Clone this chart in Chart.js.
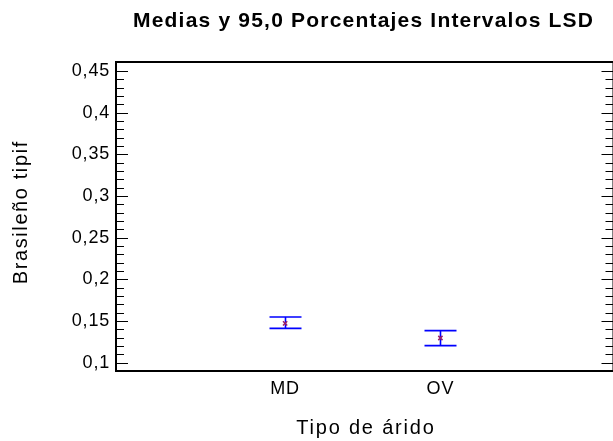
<!DOCTYPE html>
<html>
<head>
<meta charset="utf-8">
<script src="https://cdn.jsdelivr.net/npm/chart.js@4"></script>
<style>
  html, body { margin: 0; padding: 0; background: #fff; overflow: hidden; }
  canvas { display: block; }
</style>
</head>
<body>
<canvas id="chart" width="613" height="441"></canvas>
<script>
// group names and LSD interval values
const categories = ["MD", "OV"];
const means = [0.1471, 0.1296];
const lower = [0.1411, 0.1204];
const upper = [0.1548, 0.1384];
const yTicks = [0.1, 0.15, 0.2, 0.25, 0.3, 0.35, 0.4, 0.45];
const yMinorStep = 0.01;

const FONT = "'Liberation Sans', Arial, sans-serif";
// the right edge of the frame sits just past the picture
const RIGHT_OVERHANG = 6;

function spacedText(ctx, text, x, y, font, spacing, angle) {
  ctx.save();
  ctx.font = font;
  ctx.letterSpacing = spacing + "px";
  ctx.fillStyle = "#000";
  ctx.textAlign = "center";
  ctx.textBaseline = "alphabetic";
  ctx.translate(x, y);
  if (angle) ctx.rotate(angle);
  ctx.fillText(text, spacing / 2, 0);
  ctx.restore();
}

// frame, inside ticks, error bars and titles
const framePlugin = {
  id: "frame",
  beforeDraw(chart) {
    // the original text is a bit wider than Arial
    chart.ctx.letterSpacing = "0.8px";
  },
  beforeDatasetsDraw(chart) {
    const { ctx, chartArea: a, scales } = chart;
    const y = scales.y;
    const right = a.right + RIGHT_OVERHANG;
    ctx.save();
    ctx.strokeStyle = "#000";
    ctx.lineWidth = 1;
    const n = Math.round((yTicks[yTicks.length - 1] - yTicks[0]) / yMinorStep);
    for (let i = 0; i <= n; i++) {
      const v = yTicks[0] + i * yMinorStep;
      const py = Math.round(y.getPixelForValue(v)) + 0.5;
      const len = i % 5 === 0 ? 12 : 8;
      ctx.beginPath();
      ctx.moveTo(a.left, py);
      ctx.lineTo(a.left + len, py);
      ctx.moveTo(right, py);
      ctx.lineTo(right - len, py);
      ctx.stroke();
    }
    ctx.lineWidth = 2;
    ctx.strokeRect(a.left, a.top, right - a.left, a.bottom - a.top);

    // LSD intervals
    const x = scales.x;
    ctx.strokeStyle = "#0000ff";
    ctx.lineWidth = 1.6;
    categories.forEach((c, i) => {
      const px = Math.round(x.getPixelForValue(i + 1)) + 0.5;
      const pl = y.getPixelForValue(lower[i]);
      const pu = y.getPixelForValue(upper[i]);
      ctx.beginPath();
      ctx.moveTo(px, pu);
      ctx.lineTo(px, pl);
      ctx.moveTo(px - 16, pu);
      ctx.lineTo(px + 16, pu);
      ctx.moveTo(px - 16, pl);
      ctx.lineTo(px + 16, pl);
      ctx.stroke();
    });
    ctx.restore();
  },
  afterDraw(chart) {
    const ctx = chart.ctx;
    spacedText(ctx, "Medias y 95,0 Porcentajes Intervalos LSD", 363, 27, "bold 21px " + FONT, 1.2);
    spacedText(ctx, "Brasileño tipif", 27, 213, "20px " + FONT, 1.6, -Math.PI / 2);
    spacedText(ctx, "Tipo de árido", 365, 434, "20px " + FONT, 1.8);
  }
};

new Chart(document.getElementById("chart"), {
  type: "scatter",
  data: {
    datasets: [
      {
        label: "Media",
        data: means.map((m, i) => ({ x: i + 1, y: m })),
        pointStyle: "crossRot",
        pointRadius: 3,
        borderColor: "#9a1f6a",
        borderWidth: 1.5,
        backgroundColor: "#9a1f6a",
      },
    ],
  },
  options: {
    responsive: false,
    animation: false,
    layout: { padding: { top: 62, right: 0, left: 0, bottom: 0 } },
    plugins: {
      legend: { display: false },
      tooltip: { enabled: false },
      title: { display: false },
    },
    scales: {
      x: {
        type: "linear",
        min: -0.089,
        max: 3.076,
        grid: { display: false, drawTicks: false },
        border: { display: false },
        afterBuildTicks: (s) => {
          s.ticks = categories.map((c, i) => ({ value: i + 1 }));
        },
        afterFit: (s) => { s.height = 70; },
        ticks: {
          color: "#000",
          font: { family: FONT, size: 18 },
          padding: 7,
          maxRotation: 0,
          callback: (v) => categories[v - 1],
        },
      },
      y: {
        min: 0.09,
        max: 0.4608,
        grid: { display: false, drawTicks: false },
        border: { display: false },
        afterBuildTicks: (s) => {
          s.ticks = yTicks.map((v) => ({ value: v }));
        },
        afterFit: (s) => { s.width = 116; },
        ticks: {
          color: "#000",
          font: { family: FONT, size: 18 },
          padding: 6,
          callback: (v) => String(Math.round(v * 100) / 100).replace(".", ","),
        },
      },
    },
  },
  plugins: [framePlugin],
});
</script>
</body>
</html>
